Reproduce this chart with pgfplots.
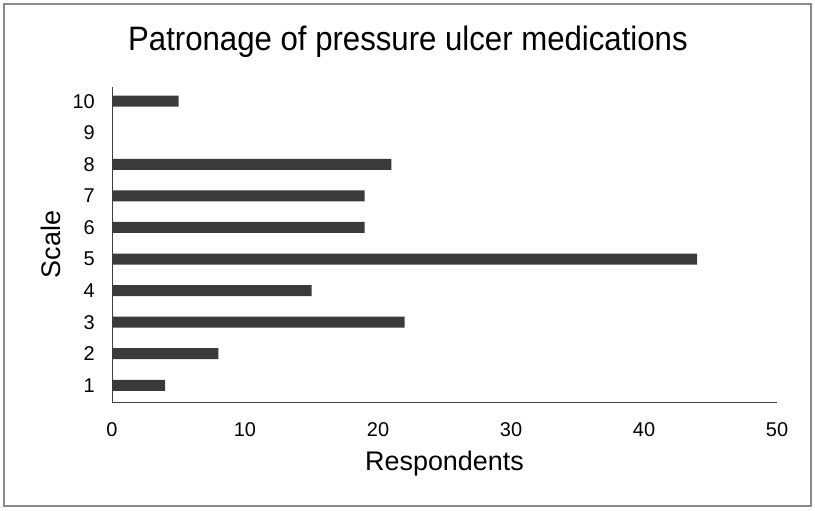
\documentclass[border=0pt]{standalone}
\usepackage{fontspec}
\setmainfont{Liberation Sans}
\usepackage{pgfplots}
\pgfplotsset{compat=1.18}
\definecolor{barc}{HTML}{3A3A3A}
\definecolor{framec}{HTML}{8A8A8A}
\begin{document}
\begin{tikzpicture}
\begin{axis}[
  scale only axis,
  width=665bp, height=315bp,
  xmin=0, xmax=50, ymin=0.47, ymax=10.45,
  axis x line*=bottom, axis y line*=left,
  axis line style={draw=black!75, line width=1bp},
  xtick={0,10,...,50}, ytick={1,...,10},
  major tick length=0pt,
  /pgf/number format/assume math mode=true,
  tick label style={font=\fontsize{20}{22}\selectfont},
  xticklabel style={anchor=base, yshift=-34bp},
  yticklabel style={anchor=east, inner sep=0pt, xshift=-17bp},
  xlabel={Respondents},
  xlabel style={at={(axis description cs:0.5,0)}, anchor=base, yshift=-68bp, font=\fontsize{27}{30}\selectfont},
  ylabel={Scale},
  ylabel style={at={(axis description cs:-0.078,0.5)}, anchor=base, rotate=0, font=\fontsize{27}{30}\selectfont},
  title={\scalebox{0.92}[1]{Patronage of pressure ulcer medications}},
  title style={at={(axis description cs:0.445,1.097)}, anchor=base, font=\fontsize{34}{38}\selectfont},
  xbar, bar width=11bp,
]
\addplot[fill=barc, draw=none] coordinates {
  (4,1) (8,2) (22,3) (15,4) (44,5) (19,6) (19,7) (21,8) (0,9) (5,10)
};
\end{axis}
\draw[framec, line width=1.3bp] ([xshift=-108bp,yshift=-104bp]current axis.south west) rectangle ([xshift=34bp,yshift=83bp]current axis.north east);
\path ([xshift=-112bp,yshift=-108bp]current axis.south west) rectangle ([xshift=38bp,yshift=87bp]current axis.north east);
\end{tikzpicture}
\end{document}
